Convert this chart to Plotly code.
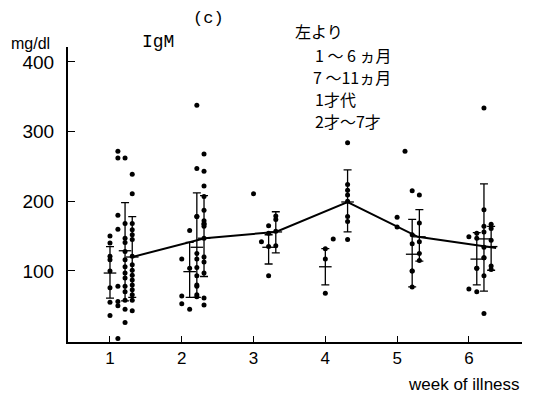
import plotly.graph_objects as go

# ---- data ----
weeks = [1, 2, 3, 4, 5, 6]
group_names = ["1～6ヵ月", "7～11ヵ月", "1才代", "2才～7才"]

# individual points: week, age-group index, value (mg/dl)
pt_week = (
    [1] * 8 + [1] * 8 + [1] * 14 + [1] * 16
    + [2] * 3 + [2] * 3 + [2] * 12 + [2] * 15
    + [3] * 1 + [3] * 1 + [3] * 4 + [3] * 4
    + [4] * 3 + [4] * 1 + [4] * 8
    + [5] * 2 + [5] * 1 + [5] * 6 + [5] * 5
    + [6] * 2 + [6] * 5 + [6] * 9 + [6] * 5
)
pt_group = (
    [0] * 8 + [1] * 8 + [2] * 14 + [3] * 16
    + [0] * 3 + [1] * 3 + [2] * 12 + [3] * 15
    + [0] * 1 + [1] * 1 + [2] * 4 + [3] * 4
    + [0] * 3 + [1] * 1 + [3] * 8
    + [0] * 2 + [1] * 1 + [2] * 6 + [3] * 5
    + [0] * 2 + [1] * 5 + [2] * 9 + [3] * 5
)
pt_value = (
    [150, 140, 121, 116, 100, 76, 55, 36]
    + [262, 272, 180, 160, 78, 56, 50, 3]
    + [262, 168, 147, 141, 128, 116, 106, 97, 90, 78, 70, 58, 45, 26]
    + [239, 211, 168, 159, 152, 145, 121, 109, 101, 94, 87, 80, 73, 66, 58, 43]
    + [117, 64, 53]
    + [158, 104, 45]
    + [338, 247, 178, 178, 125, 117, 105, 93, 80, 78, 66, 63]
    + [268, 243, 222, 207, 187, 172, 168, 167, 164, 147, 120, 113, 97, 61, 51]
    + [211]
    + [142]
    + [165, 154, 135, 93]
    + [179, 174, 157, 136]
    + [132, 117, 68]
    + [146]
    + [284, 224, 216, 209, 200, 178, 171, 145]
    + [177, 163]
    + [272]
    + [215, 152, 139, 100, 100, 77]
    + [209, 169, 142, 125, 115]
    + [149, 74]
    + [154, 147, 104, 104, 70]
    + [334, 188, 164, 156, 134, 119, 119, 93, 39]
    + [167, 161, 144, 107, 102]
)

# mean +/- SD bars: week, group, mean, upper, lower
bar_week = [1, 1, 1, 2, 2, 2, 3, 3, 4, 4, 5, 5, 6, 6, 6]
bar_group = [0, 2, 3, 1, 2, 3, 2, 3, 0, 3, 2, 3, 1, 2, 3]
bar_mean = [97, 129, 120, 99, 134, 147, 134, 156, 106, 199, 124, 149, 117, 146, 135]
bar_upper = [135, 198, 178, 141, 212, 208, 152, 185, 132, 245, 174, 188, 155, 225, 164]
bar_lower = [61, 57, 62, 62, 62, 92, 110, 126, 80, 156, 77, 114, 80, 71, 101]

# overall mean line
line_week = [1.31, 2.32, 3.31, 4.31, 5.29, 6.38]
line_value = [120, 147, 156, 199, 149, 133]

y_ticks = [100, 200, 300, 400]

# ---- style ----
group_offset = [0.0, 0.11, 0.21, 0.31]
FONT = "Liberation Sans, Arial, sans-serif"
MONO = "Liberation Mono, DejaVu Sans Mono, monospace"
CJK = "Noto Sans CJK JP, sans-serif"
W, H = 543, 395
ML, MR, MT, MB = 68, 21, 47, 53

px = [w + group_offset[g] for w, g in zip(pt_week, pt_group)]
bx = [w + group_offset[g] for w, g in zip(bar_week, bar_group)]

fig = go.Figure()
fig.add_trace(go.Scatter(
    x=line_week, y=line_value, mode="lines",
    line=dict(color="black", width=2), showlegend=False, hoverinfo="skip"))
fig.add_trace(go.Scatter(
    x=bx, y=bar_mean, mode="markers",
    marker=dict(symbol="line-ew", size=9, line=dict(color="black", width=1.3)),
    error_y=dict(type="data", symmetric=False,
                 array=[u - m for u, m in zip(bar_upper, bar_mean)],
                 arrayminus=[m - l for m, l in zip(bar_mean, bar_lower)],
                 color="black", thickness=1.3, width=4),
    showlegend=False))
fig.add_trace(go.Scatter(
    x=px, y=pt_value, mode="markers",
    marker=dict(color="black", size=5), showlegend=False))

fig.update_layout(
    width=W, height=H,
    margin=dict(l=ML, r=MR, t=MT, b=MB),
    paper_bgcolor="white", plot_bgcolor="white",
    font=dict(family=FONT, color="black"),
)
fig.update_xaxes(
    range=[0.415, 6.74], tickvals=weeks, ticktext=[str(w) for w in weeks],
    ticks="inside", ticklen=6, tickwidth=1.2, tickcolor="black",
    showline=True, linecolor="black", linewidth=2, showgrid=False, zeroline=False,
    tickfont=dict(size=17, family=FONT), ticklabelstandoff=0)
fig.update_yaxes(
    range=[-2, 421.5], tickvals=y_ticks,
    ticks="inside", ticklen=7, tickwidth=1.2, tickcolor="black",
    showline=True, linecolor="black", linewidth=2, showgrid=False, zeroline=False,
    tickfont=dict(size=19, family=FONT), ticklabelstandoff=8)

annots = [
    dict(text="mg/dl", x=9, y=44, size=16, font=FONT),
    dict(text="IgM", x=140, y=42, size=18, font=MONO),
    dict(text="(c)", x=191, y=19, size=17, font=MONO),
    dict(text="左より", x=293, y=31, size=16, font=CJK),
    dict(text="1 ～ 6 ヵ月", x=313, y=55, size=16, font=CJK),
    dict(text="7 ～11ヵ月", x=311, y=77, size=16, font=CJK),
    dict(text="1才代", x=313, y=99, size=16, font=CJK),
    dict(text="2才～7才", x=313, y=121, size=16, font=CJK),
    dict(text="week of illness", x=406, y=384, size=17, font=FONT),
]
pw = W - ML - MR
ph = H - MT - MB
for a in annots:
    fig.add_annotation(
        text=a["text"], x=(a["x"] - ML) / pw, y=(H - MB - a["y"]) / ph,
        xref="paper", yref="paper", xanchor="left", yanchor="middle",
        showarrow=False, font=dict(size=a["size"], family=a["font"], color="black"))

fig.write_html("out.html")
